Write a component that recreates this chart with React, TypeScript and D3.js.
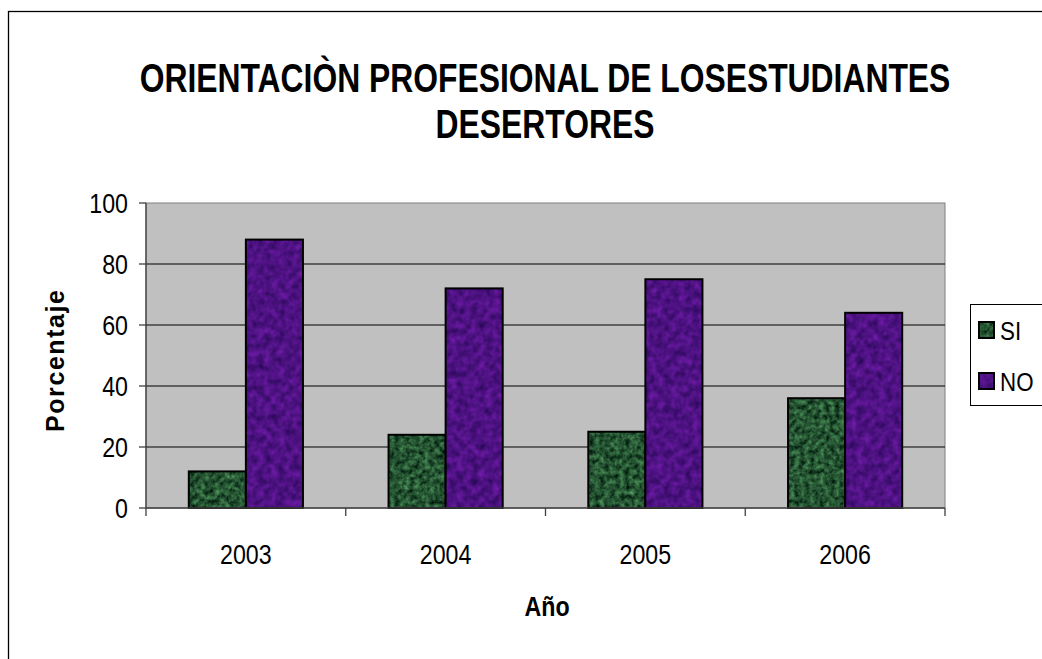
import React from "react";
import * as d3 from "d3";

const years = ["2003", "2004", "2005", "2006"];
const siValues = [12, 24, 25, 36];
const noValues = [88, 72, 75, 64];
const seriesNames = ["SI", "NO"];
const yTicks = [0, 20, 40, 60, 80, 100];
const titleLines = ["ORIENTACIÒN PROFESIONAL DE LOSESTUDIANTES", "DESERTORES"];

const W = 1042;
const H = 659;
const plot = { left: 146, right: 945, top: 203, bottom: 508 };
const SX = 0.86;

function T({ x, y, size, bold, anchor, children, sx = SX, rotate = 0, len, adjust }: any) {
  return (
    <text
      transform={`translate(${x},${y}) rotate(${rotate}) scale(${sx},1)`}
      fontFamily="Liberation Sans, Arial, sans-serif"
      fontSize={size}
      fontWeight={bold ? "bold" : "normal"}
      textAnchor={anchor || "start"}
      fill="#000"
      textLength={len}
      lengthAdjust={len ? adjust || "spacing" : undefined}
    >
      {children}
    </text>
  );
}

export default function App() {
  const x = d3.scaleBand<string>().domain(years).range([plot.left, plot.right]).paddingInner(0).paddingOuter(0);
  const xs = d3.scaleBand<string>().domain(seriesNames).range([0, x.bandwidth()]).paddingInner(0).paddingOuter(0.75);
  const y = d3.scaleLinear().domain([0, 100]).range([plot.bottom, plot.top]);
  const series = [
    { name: "SI", values: siValues, filter: "url(#fGreen)" },
    { name: "NO", values: noValues, filter: "url(#fPurple)" },
  ];
  const boundaries = [...years.map((d) => x(d)!), plot.right];

  return (
    <svg width={W} height={H} style={{ position: "absolute", left: 0, top: 0 }}>
      <defs>
        <filter id="fGreen" x="0" y="0" width="1" height="1" colorInterpolationFilters="sRGB">
          <feTurbulence type="fractalNoise" baseFrequency="0.2" numOctaves="3" seed="4" result="n" />
          <feColorMatrix in="n" type="matrix" values="0.45 0 0 0 -0.08  0.7 0 0 0 -0.02  0.45 0 0 0 -0.03  0 0 0 0 1" />
        </filter>
        <filter id="fPurple" x="0" y="0" width="1" height="1" colorInterpolationFilters="sRGB">
          <feTurbulence type="fractalNoise" baseFrequency="0.14" numOctaves="2" seed="9" result="n" />
          <feColorMatrix in="n" type="matrix" values="0.35 0 0 0 0.13  0.1 0 0 0 0.02  0.4 0 0 0 0.31  0 0 0 0 1" />
        </filter>
      </defs>
      <rect x={0} y={0} width={W} height={H} fill="#fff" />
      <rect x={8.5} y={11.5} width={1100} height={700} fill="none" stroke="#000" strokeWidth={1.3} />

      {/* title */}
      <T x={545} y={92} size={40} bold anchor="middle" sx={0.796}>{titleLines[0]}</T>
      <T x={545} y={138} size={40} bold anchor="middle" sx={0.796}>{titleLines[1]}</T>

      {/* plot area */}
      <rect x={plot.left} y={plot.top} width={plot.right - plot.left} height={plot.bottom - plot.top} fill="#C0C0C0" stroke="#808080" strokeWidth={1} />
      {yTicks.filter((t) => t > 0 && t < 100).map((t) => (
        <line key={t} x1={plot.left} x2={plot.right} y1={y(t)} y2={y(t)} stroke="#000" strokeWidth={1} />
      ))}

      {/* bars */}
      {years.map((yr, i) =>
        series.map((s) => {
          const bx = x(yr)! + xs(s.name)!;
          const by = y(s.values[i]);
          const bh = plot.bottom - by;
          return (
            <g key={yr + s.name}>
              <rect x={bx} y={by} width={xs.bandwidth()} height={bh} fill="#333" filter={s.filter} />
              <rect x={bx} y={by} width={xs.bandwidth()} height={bh} fill="none" stroke="#000" strokeWidth={2} />
            </g>
          );
        })
      )}

      {/* axes */}
      <line x1={plot.left} x2={plot.left} y1={plot.top} y2={plot.bottom} stroke="#404040" strokeWidth={1.3} />
      <line x1={plot.left} x2={plot.right} y1={plot.bottom} y2={plot.bottom} stroke="#404040" strokeWidth={1.3} />
      {yTicks.map((t) => (
        <g key={t}>
          <line x1={plot.left - 7} x2={plot.left} y1={y(t)} y2={y(t)} stroke="#404040" strokeWidth={1.3} />
          <T x={128} y={y(t) + 10} size={27} anchor="end">{t}</T>
        </g>
      ))}
      {boundaries.map((b, i) => (
        <line key={i} x1={b} x2={b} y1={plot.bottom} y2={plot.bottom + 8} stroke="#404040" strokeWidth={1.3} />
      ))}
      {years.map((yr) => (
        <T key={yr} x={x(yr)! + x.bandwidth() / 2} y={564} size={27} anchor="middle">{yr}</T>
      ))}
      <T x={547} y={616} size={27} bold anchor="middle">Año</T>
      <T x={64} y={361} size={25} bold anchor="middle" rotate={-90} sx={1} len={142}>Porcentaje</T>

      {/* legend */}
      <rect x={970.5} y={304.5} width={100} height={101} fill="#fff" stroke="#000" strokeWidth={1} />
      {series.map((s, i) => (
        <g key={s.name}>
          <rect x={979} y={322 + i * 51} width={15} height={16} filter={s.filter} fill="#333" />
          <rect x={979} y={322 + i * 51} width={15} height={16} fill="none" stroke="#000" strokeWidth={2} />
          <T x={1000} y={340 + i * 51} size={26}>{s.name}</T>
        </g>
      ))}
    </svg>
  );
}
